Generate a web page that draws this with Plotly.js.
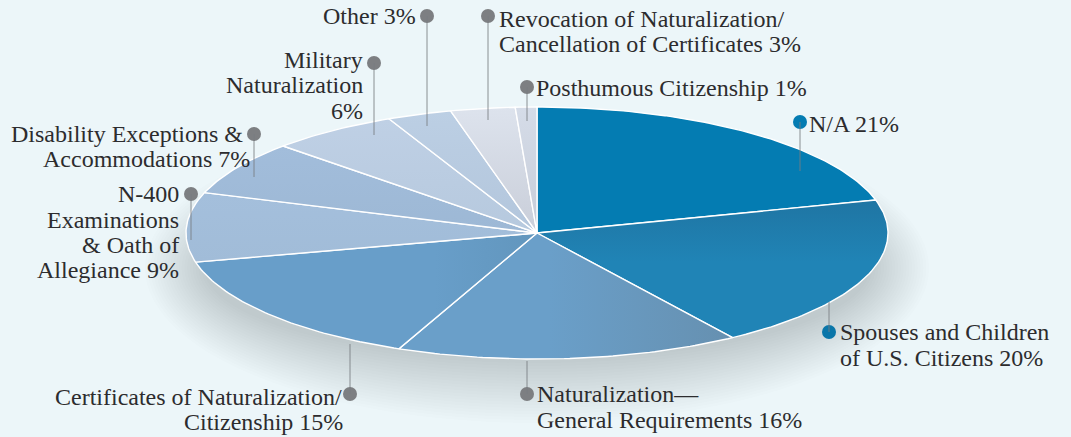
<!DOCTYPE html>
<html>
<head>
<meta charset="utf-8">
<script src="https://cdn.plot.ly/plotly-3.0.1.min.js"></script>
<style>html,body{margin:0;padding:0;background:#ecf6f9}#c{width:1071px;height:437px}</style>
</head>
<body>
<div id="c"></div>
<script>
// Data, clockwise from 12 o'clock
var categories = ["N/A","Spouses and Children of U.S. Citizens","Naturalization—General Requirements","Certificates of Naturalization/Citizenship","N-400 Examinations & Oath of Allegiance","Disability Exceptions & Accommodations","Military Naturalization","Other","Revocation of Naturalization/Cancellation of Certificates","Posthumous Citizenship"];
var shares = [21,20,16,15,9,7,6,3,3,1];

// Slice styles: gradient type, its two colours and where the blend begins
var sliceGradient = ["vertical","vertical","horizontal","horizontal","vertical","vertical","vertical","vertical","vertical","vertical"];
var sliceColorA = ["#047cb2","#2084b6","#6a9fc9","#689ec9","#a1bcd8","#9db8d5","#b6c9de","#b3c6dc","#c9ced9","#c6ccd8"];
var sliceColorB = ["#047cb2","#1f75a3","#6690b0","#6296bd","#a4bfdc","#a2bddb","#bfd0e5","#bccfe4","#dde3ed","#d5dce8"];
var sliceBlendStart = [0,0.55,0.45,0.7,0,0,0,0,0,0];

// Geometry of the ellipse in pixel-valued axes
var cx = 537, cy = 233, rx = 351, ry = 126;

// Label lines, one entry per rendered line
var labelLines = [
 ["Other 3%",416,16,"right"],
 ["Revocation of Naturalization/",499,19,"left"],
 ["Cancellation of Certificates 3%",499,44,"left"],
 ["Posthumous Citizenship 1%",536,88,"left"],
 ["N/A 21%",809,124,"left"],
 ["Military",363,60,"right"],
 ["Naturalization",363,85,"right"],
 ["6%",363,111,"right"],
 ["Disability Exceptions &",243,134,"right"],
 ["Accommodations 7%",250,159,"right"],
 ["N-400",179,194,"right"],
 ["Examinations",179,220,"right"],
 ["& Oath of",179,245,"right"],
 ["Allegiance 9%",179,270,"right"],
 ["Certificates of Naturalization/",342,397,"right"],
 ["Citizenship 15%",343,422,"right"],
 ["Naturalization—",537,394,"left"],
 ["General Requirements 16%",537,420,"left"],
 ["Spouses and Children",840,332,"left"],
 ["of U.S. Citizens 20%",840,358,"left"]
];

// Callouts: dot x, dot y, far end y of leader, colour
var callouts = [
 [427,16,126,"#7d7f82"],[488,16,120,"#7d7f82"],[527,87,121,"#7d7f82"],
 [374,63,135,"#7d7f82"],[254,134,177,"#7d7f82"],[191,194,240,"#7d7f82"],
 [350,394,344,"#7d7f82"],[527,394,361,"#7d7f82"],
 [829,332,302,"#0a76a9"],[800,122,171,"#047cb2"]
];

var traces = [];

// Soft drop shadow, stacked translucent ellipses
var shadowLayers = 22;
for (var s = 0; s < shadowLayers; s++) {
  var f = s / (shadowLayers - 1);
  var srx = 392 - 59 * f, sry = 155 - 63 * f, sx = [], sy = [];
  for (var k = 0; k <= 120; k++) {
    var a = 2 * Math.PI * k / 120;
    sx.push(cx + srx * Math.cos(a));
    sy.push(268 + sry * Math.sin(a));
  }
  traces.push({type:"scatter",mode:"none",x:sx,y:sy,fill:"toself",fillcolor:"rgba(75,85,90,0.0115)",hoverinfo:"skip",showlegend:false});
}

// Slices on the ellipse, sized from the shares
var total = shares.reduce(function(p,c){return p+c;},0);
var running = 0;
shares.forEach(function(v,i){
  var a0 = running / total * 2 * Math.PI;
  running += v;
  var a1 = running / total * 2 * Math.PI;
  var xs = [cx], ys = [cy], steps = Math.max(6, Math.ceil(v * 4));
  for (var k = 0; k <= steps; k++) {
    var t = a0 + (a1 - a0) * k / steps;
    xs.push(cx + rx * Math.sin(t));
    ys.push(cy - ry * Math.cos(t));
  }
  xs.push(cx); ys.push(cy);
  var stops = sliceBlendStart[i] > 0
    ? [[0,sliceColorA[i]],[sliceBlendStart[i],sliceColorA[i]],[1,sliceColorB[i]]]
    : [[0,sliceColorA[i]],[1,sliceColorB[i]]];
  traces.push({
    type:"scatter",mode:"lines",x:xs,y:ys,name:categories[i],
    fill:"toself",
    fillgradient:{type:sliceGradient[i],colorscale:stops},
    line:{color:"#ffffff",width:1.4},hoverinfo:"name",showlegend:false
  });
});

// Callout dots
traces.push({type:"scatter",mode:"markers",
  x:callouts.map(function(c){return c[0];}),
  y:callouts.map(function(c){return c[1];}),
  marker:{size:14,color:callouts.map(function(c){return c[3];}),line:{width:0}},
  hoverinfo:"skip",showlegend:false});

var layout = {
  width:1071,height:437,margin:{l:0,r:0,t:0,b:0},
  paper_bgcolor:"#ecf6f9",plot_bgcolor:"rgba(0,0,0,0)",
  xaxis:{range:[0,1071],visible:false,fixedrange:true},
  yaxis:{range:[437,0],visible:false,fixedrange:true},
  showlegend:false,
  shapes:callouts.map(function(c){
    return {type:"line",xref:"x",yref:"y",x0:c[0],x1:c[0],y0:c[1],y1:c[2],layer:"above",line:{color:"rgba(120,125,130,0.85)",width:1}};
  }),
  annotations:labelLines.map(function(l){
    return {text:l[0],x:l[1],y:l[2],xref:"x",yref:"y",xanchor:l[3],yanchor:"middle",showarrow:false,
      font:{family:"'Liberation Serif',serif",size:24,color:"#2c2c2e"},borderpad:0,borderwidth:0};
  })
};

Plotly.newPlot("c",traces,layout,{displayModeBar:false,staticPlot:true});
</script>
</body>
</html>
